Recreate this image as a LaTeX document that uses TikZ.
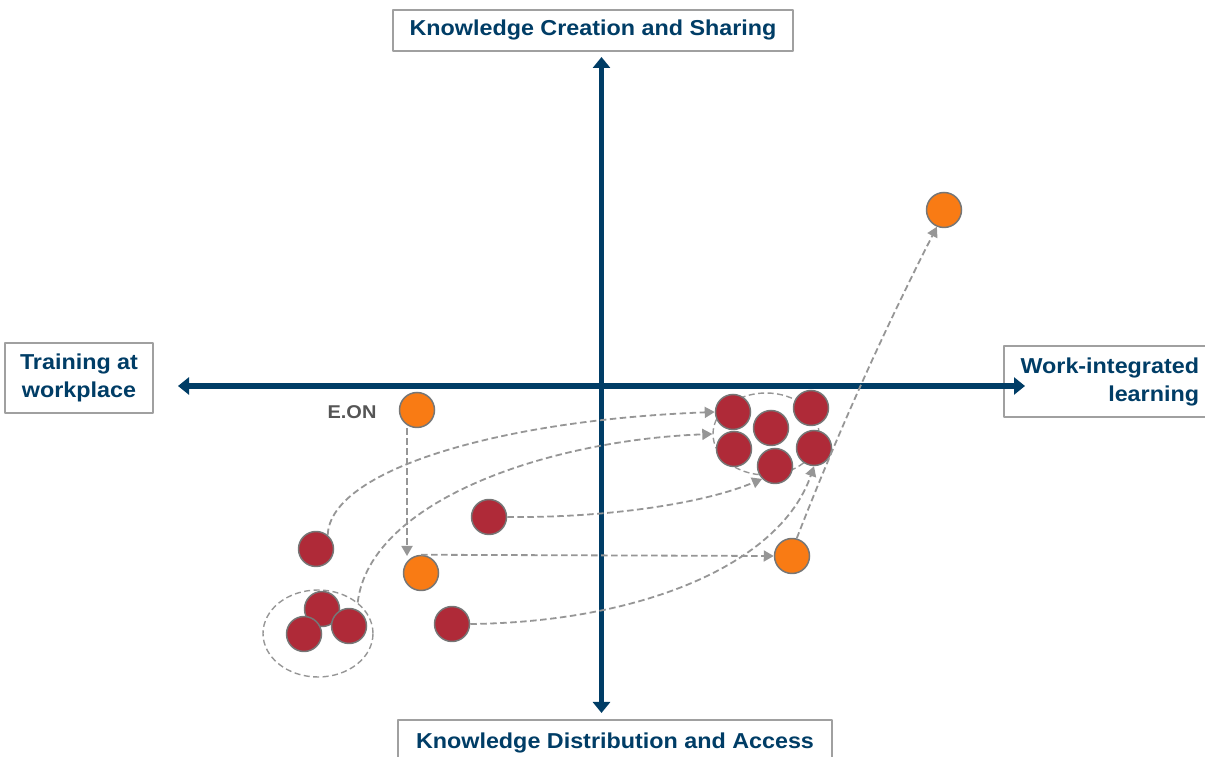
\documentclass[tikz,border=0pt]{standalone}
\usepackage{fontspec}
\setmainfont[FakeStretch=1.08]{Liberation Sans}
\usepackage{tikz}
\usetikzlibrary{arrows,arrows.meta,shapes}
\definecolor{axisblue}{RGB}{0,61,102}
\definecolor{ballred}{RGB}{175,42,56}
\definecolor{ballorange}{RGB}{249,123,20}
\definecolor{rimgray}{RGB}{118,118,118}
\definecolor{flowgray}{RGB}{150,150,150}
\definecolor{framegray}{RGB}{160,160,160}
\definecolor{tagtext}{RGB}{85,85,85}

\tikzset{
  axislabel/.style={draw=framegray,line width=2bp,fill=white,text=axisblue,
    font=\bfseries\fontsize{21.6bp}{28bp}\selectfont,inner sep=0pt},
  axis/.style={draw=axisblue,line width=5.5bp,
    arrows={Triangle[length=11bp,width=17bp]-Triangle[length=11bp,width=17bp]}},
  ball/.style={circle,draw=rimgray,line width=1.5bp,minimum size=35bp,inner sep=0pt},
  redball/.style={ball,fill=ballred},
  orangeball/.style={ball,fill=ballorange},
  hull/.style={ellipse,draw=flowgray,line width=1.4bp,dash pattern=on 6bp off 3.5bp,inner sep=0pt},
  flow/.style={draw=flowgray,line width=1.8bp,dash pattern=on 6.5bp off 3.5bp,
    -{Triangle[length=10bp,width=11bp]}},
}

\begin{document}
\begin{tikzpicture}[line join=bevel]
\useasboundingbox (0bp,0bp) rectangle (1205bp,757bp);
%% quadrant labels
\node (kcs) at (593bp,726.5bp) [axislabel,minimum width=400bp,minimum height=41bp,text height=15.5bp,text depth=4.5bp] {Knowledge Creation and Sharing};
  \node (kda) at (615bp,14.5bp) [axislabel,minimum width=434bp,minimum height=44bp,text height=15.5bp,text depth=4.5bp] {Knowledge Distribution and Access};
  \node (trn) at (79bp,379bp) [axislabel,minimum width=148bp,minimum height=70.5bp,align=center] {Training at\\workplace};
  \node (wil) at (1003bp,412bp) [axislabel,anchor=north west,minimum height=71bp,inner xsep=12bp,text width=183bp,align=right] {Work-integrated\\learning};
%% axes
\coordinate (xl) at (178bp,371bp);
  \coordinate (xr) at (1025bp,371bp);
  \coordinate (yt) at (601.5bp,700bp);
  \coordinate (yb) at (601.5bp,44bp);
  \draw [axis] (xl) -- (xr);
  \draw [axis] (yb) -- (yt);
%% groups
\node (hullA) at (318bp,123.5bp) [hull,minimum width=110bp,minimum height=87bp] {};
  \node (hullB) at (766bp,323bp) [hull,minimum width=106bp,minimum height=82bp] {};
%% cases
\node (eon) at (417bp,347bp) [orangeball] {};
  \node (eontag) at (352bp,345bp) [text=tagtext,font=\bfseries\fontsize{18.5bp}{20bp}\selectfont] {E.ON};
  \node (o2) at (421bp,184bp) [orangeball] {};
  \node (o3) at (792bp,201bp) [orangeball] {};
  \node (o4) at (944bp,547bp) [orangeball] {};
  \node (r0) at (316bp,208bp) [redball] {};
  \node (r5) at (489bp,240bp) [redball] {};
  \node (r6) at (452bp,133bp) [redball] {};
  \node (a1) at (322bp,148bp) [redball] {};
  \node (a2) at (304bp,123bp) [redball] {};
  \node (a3) at (349bp,131bp) [redball] {};
  \node (c1) at (733bp,345bp) [redball] {};
  \node (c2) at (811bp,349bp) [redball] {};
  \node (c3) at (771bp,329bp) [redball] {};
  \node (c4) at (734bp,308bp) [redball] {};
  \node (c5) at (814bp,309bp) [redball] {};
  \node (c6) at (775bp,291bp) [redball] {};
%% moves
\coordinate (knee) at (407bp,201bp);
  \draw [flow] (eon.south -| knee) -- (knee);
  \draw [flow] (o2.north) -- (o3.west);
  \draw [flow] (r0.50) ..controls (330bp,287bp) and (500bp,337bp) .. (c1.west);
  \draw [flow] (hullA.38) ..controls (370bp,257bp) and (550bp,317bp) .. (hullB.west);
  \draw [flow] (r5.east) ..controls (600bp,239bp) and (700bp,252bp) .. (c6.south west);
  \draw [flow] (r6.east) ..controls (640bp,135bp) and (780bp,192bp) .. (c5.south);
  \draw [flow] (o3.75) ..controls (837.5bp,323.5bp) and (883.5bp,425.5bp) .. (o4.247);
%
\end{tikzpicture}
\end{document}
